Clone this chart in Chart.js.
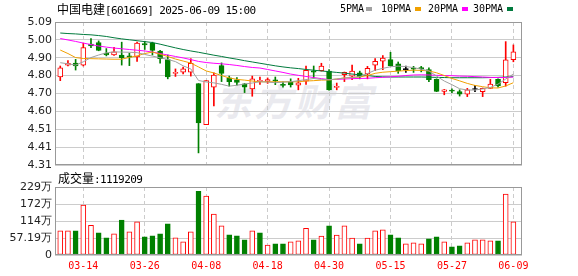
<!DOCTYPE html>
<html><head><meta charset="utf-8">
<script src="https://cdn.jsdelivr.net/npm/chart.js@4/dist/chart.umd.min.js"></script>
<style>
html,body{margin:0;padding:0;background:#fff;}
#wrap{position:relative;width:578px;height:276px;overflow:hidden;background:#fff;}
canvas{position:absolute;left:0;top:0;}
.t{position:absolute;white-space:nowrap;font-family:"DejaVu Sans Mono",monospace;font-size:11px;letter-spacing:-0.6px;color:#000;line-height:12px;}
.cjk{font-family:"Noto Sans CJK SC";font-size:12px;letter-spacing:0;}
.lg{position:absolute;white-space:nowrap;font-family:"DejaVu Sans Mono",monospace;font-size:10px;color:#000;line-height:12px;top:3px;}
.sq{position:absolute;width:6px;height:4px;top:7px;}
#wm{position:absolute;left:214px;top:72px;font:italic bold 38px "Noto Sans CJK SC";color:rgba(195,195,210,0.35);letter-spacing:2px;}
</style></head>
<body>
<div id="wrap">
  <div id="wm">东方财富</div>
  <canvas id="c1" width="578" height="276"></canvas>
  <canvas id="c2" width="578" height="276"></canvas>
  <div class="t" style="left:57px;top:3px"><span class="cjk">中国电建</span>[601669] 2025-06-09 15:00</div>
  <div class="lg" style="left:340px">5PMA</div><div class="sq" style="left:366px;background:#a0a0a0"></div>
  <div class="lg" style="left:381px">10PMA</div><div class="sq" style="left:415px;background:#f0a000"></div>
  <div class="lg" style="left:428px">20PMA</div><div class="sq" style="left:462px;background:#ff00ff"></div>
  <div class="lg" style="left:473px">30PMA</div><div class="sq" style="left:507px;background:#007a3d"></div>
  <div class="t" style="left:58px;top:172px"><span class="cjk">成交量</span>:1119209</div>
</div>
<script>
const dates = ['03-11','03-12','03-13','03-14','03-17','03-18','03-19','03-20','03-21','03-24',
 '03-25','03-26','03-27','03-28','03-31','04-01','04-02','04-03','04-07','04-08',
 '04-09','04-10','04-11','04-14','04-15','04-16','04-17','04-18','04-21','04-22',
 '04-23','04-24','04-25','04-28','04-29','04-30','05-06','05-07','05-08','05-09',
 '05-12','05-13','05-14','05-15','05-16','05-19','05-20','05-21','05-22','05-23',
 '05-26','05-27','05-28','05-29','05-30','06-03','06-04','06-05','06-06','06-09'];
const tickDates = ['03-14','03-26','04-08','04-18','04-30','05-15','05-27','06-09'];

const open = [4.79,4.855,4.866,4.855,4.97,4.978,4.92,4.911,4.91,4.905,
 4.90,4.972,4.975,4.932,4.885,4.81,4.817,4.817,4.754,4.53,
 4.734,4.852,4.786,4.775,4.753,4.725,4.765,4.766,4.775,4.747,
 4.764,4.745,4.767,4.823,4.825,4.822,4.733,4.803,4.795,4.813,
 4.807,4.855,4.877,4.885,4.862,4.83,4.838,4.84,4.83,4.777,
 4.712,4.716,4.71,4.697,4.722,4.71,4.728,4.777,4.759,4.885];
const high = [4.85,4.88,4.886,4.975,5.00,4.987,4.945,4.952,4.98,4.92,
 4.98,4.985,4.98,4.935,4.91,4.834,4.844,4.89,4.754,4.77,
 4.813,4.867,4.795,4.787,4.755,4.795,4.79,4.785,4.79,4.764,
 4.78,4.783,4.85,4.85,4.865,4.83,4.757,4.817,4.855,4.822,
 4.848,4.89,4.907,4.925,4.872,4.85,4.848,4.848,4.84,4.78,
 4.722,4.725,4.72,4.728,4.745,4.73,4.777,4.78,4.983,4.965];
const low = [4.77,4.85,4.828,4.85,4.95,4.933,4.905,4.908,4.855,4.852,
 4.875,4.94,4.91,4.865,4.78,4.793,4.807,4.795,4.376,4.53,
 4.632,4.765,4.74,4.745,4.705,4.685,4.75,4.755,4.748,4.735,
 4.735,4.72,4.75,4.783,4.822,4.718,4.72,4.765,4.775,4.78,
 4.78,4.825,4.83,4.85,4.81,4.815,4.815,4.818,4.765,4.71,
 4.693,4.705,4.686,4.683,4.71,4.683,4.728,4.735,4.74,4.873];
const close = [4.84,4.865,4.85,4.95,4.96,4.935,4.91,4.927,4.895,4.898,
 4.975,4.965,4.935,4.89,4.79,4.815,4.835,4.864,4.54,4.77,
 4.80,4.81,4.765,4.76,4.735,4.78,4.772,4.776,4.768,4.744,
 4.747,4.758,4.827,4.817,4.85,4.72,4.738,4.815,4.822,4.792,
 4.837,4.875,4.893,4.852,4.825,4.83,4.833,4.836,4.775,4.712,
 4.72,4.713,4.697,4.72,4.722,4.728,4.752,4.742,4.883,4.927];
const volume = [812000,812000,812000,1679000,1000000,745000,578000,711000,1178000,778000,
 1112000,611000,645000,711000,1045000,578000,445000,778000,2146000,1979000,
 1379000,978000,678000,645000,511000,812000,745000,333000,378000,378000,
 445000,478000,900000,511000,634000,978000,667000,978000,567000,378000,
 567000,812000,845000,678000,578000,378000,411000,378000,545000,611000,
 445000,278000,311000,411000,511000,511000,478000,478000,2046000,1119209];
const ma5 = [4.868,4.862,4.855,4.873,4.896,4.910,4.922,4.927,4.926,4.925,
 4.923,4.913,4.904,4.895,4.886,4.874,4.851,4.834,4.771,4.763,
 4.758,4.750,4.740,4.745,4.752,4.757,4.764,4.762,4.759,4.762,
 4.764,4.770,4.776,4.782,4.777,4.775,4.779,4.785,4.788,4.792,
 4.809,4.827,4.837,4.846,4.849,4.847,4.841,4.833,4.823,4.795,
 4.768,4.748,4.726,4.719,4.719,4.725,4.733,4.751,4.779,4.806];
const ma10 = [4.937,4.918,4.896,4.891,4.890,4.889,4.888,4.887,4.887,4.897,
 4.905,4.918,4.926,4.914,4.902,4.888,4.877,4.866,4.845,4.823,
 4.812,4.798,4.785,4.777,4.773,4.768,4.764,4.764,4.764,4.764,
 4.764,4.764,4.768,4.770,4.773,4.774,4.779,4.785,4.787,4.790,
 4.798,4.810,4.816,4.819,4.822,4.825,4.827,4.826,4.823,4.813,
 4.798,4.782,4.769,4.755,4.744,4.737,4.731,4.730,4.741,4.759];
const ma20 = [5.000,4.992,4.984,4.975,4.967,4.959,4.953,4.948,4.944,4.940,
 4.936,4.932,4.926,4.918,4.910,4.902,4.894,4.885,4.875,4.869,
 4.865,4.862,4.858,4.853,4.847,4.842,4.839,4.831,4.823,4.815,
 4.806,4.799,4.793,4.787,4.781,4.776,4.777,4.779,4.781,4.782,
 4.783,4.786,4.788,4.791,4.794,4.798,4.801,4.802,4.801,4.799,
 4.798,4.797,4.795,4.794,4.792,4.790,4.788,4.787,4.787,4.790];
const ma30 = [5.030,5.027,5.025,5.022,5.020,5.016,5.011,5.004,4.998,4.993,
 4.988,4.983,4.978,4.969,4.959,4.949,4.940,4.932,4.925,4.917,
 4.909,4.902,4.894,4.887,4.879,4.872,4.865,4.858,4.851,4.845,
 4.840,4.836,4.831,4.827,4.823,4.819,4.815,4.811,4.806,4.802,
 4.798,4.793,4.791,4.790,4.790,4.790,4.790,4.790,4.789,4.788,
 4.787,4.786,4.786,4.786,4.786,4.786,4.787,4.788,4.790,4.792];

const priceTickValues = [4.31,4.4075,4.505,4.6025,4.70,4.7975,4.895,4.9925,5.09];
const priceTickLabels = ['4.31','4.41','4.51','4.60','4.70','4.80','4.90','5.00','5.09'];
const volTickValues = [0,571900,1143800,1715700,2287600];
const volTickLabels = ['0','57.19万','114万','172万','229万'];

const RED='#ff0000', GREEN='#008000', BLACK='#000000';
const idx = dates.map((d,i)=>i);
const tickIdx = tickDates.map(d=>dates.indexOf(d));
const X_MIN = -0.685, X_MAX = 60.122;
const candleCol = idx.map(i => close[i]>open[i]?RED:(close[i]<open[i]?GREEN:BLACK));
const bodyFill = idx.map(i => close[i]>open[i]?'#ffffff':candleCol[i]);
const volUp = idx.map(i => i===0 ? close[i]>=open[i] : close[i]>=close[i-1]);
const volCol = volUp.map(u=>u?RED:GREEN);
const volFill = volUp.map(u=>u?'#ffffff':GREEN);

const boxPlugin = {id:'box', afterDraw(chart){
  const a=chart.chartArea, c=chart.ctx;
  c.save(); c.strokeStyle='#999'; c.lineWidth=1;
  c.strokeRect(a.left+0.5,a.top+0.5,a.right-a.left-1,a.bottom-a.top-1);
  c.restore();
}};

function xScale(showTicks, h){
  return {type:'linear', min:X_MIN, max:X_MAX, offset:false,
    afterBuildTicks:s=>{s.ticks=tickIdx.map(v=>({value:v}));},
    afterFit:s=>{s.height=h;},
    ticks:{display:showTicks, autoSkip:false, maxRotation:0, padding:5,
      callback:v=>dates[v], color:RED, font:{family:'DejaVu Sans Mono', size:10}},
    grid:{color:'#cccccc', drawTicks:false, lineWidth:1, offset:false},
    border:{display:false, dash:[4,3]}};
}
function line(lbl, arr, col){
  return {type:'line', label:lbl, data:idx.map(i=>({x:i,y:arr[i]})), borderColor:col,
    borderWidth:1, pointRadius:0, tension:0, order:0};
}

new Chart(document.getElementById('c1'), {
  type:'bar',
  data:{datasets:[
    line('5PMA', ma5, '#a0a0a0'),
    line('10PMA', ma10, '#f0a000'),
    line('20PMA', ma20, '#ff00ff'),
    line('30PMA', ma30, '#007a3d'),
    {label:'body', data:idx.map(i=>({x:i,y:[open[i],close[i]]})), backgroundColor:bodyFill,
      borderColor:candleCol, borderWidth:1, borderSkipped:false, barThickness:5, minBarLength:1,
      grouped:false, order:1},
    {label:'wick', data:idx.map(i=>({x:i,y:[low[i],high[i]]})), backgroundColor:candleCol,
      borderWidth:0, barThickness:1, grouped:false, order:2}
  ]},
  options:{responsive:false, animation:false, events:[],
    layout:{padding:{left:0,top:22,right:56,bottom:111}},
    plugins:{legend:{display:false}, tooltip:{enabled:false}},
    scales:{
      x:xScale(false,0),
      y:{min:4.31, max:5.09,
        afterBuildTicks:s=>{s.ticks=priceTickValues.map(v=>({value:v}));},
        afterFit:s=>{s.width=55;},
        ticks:{callback:(v,i)=>priceTickLabels[i], color:'#222', padding:3,
          font:{family:'DejaVu Sans', size:11}},
        grid:{color:'#cccccc', drawTicks:false}, border:{display:false}}
    }},
  plugins:[boxPlugin]
});

new Chart(document.getElementById('c2'), {
  type:'bar',
  data:{datasets:[
    {label:'volume', data:idx.map(i=>({x:i,y:volume[i]})), backgroundColor:volFill,
      borderColor:volCol, borderWidth:1, borderSkipped:false, barThickness:5, grouped:false}
  ]},
  options:{responsive:false, animation:false, events:[],
    layout:{padding:{left:0,top:187,right:56,bottom:0}},
    plugins:{legend:{display:false}, tooltip:{enabled:false}},
    scales:{
      x:xScale(true,21),
      y:{min:0, max:2287600,
        afterBuildTicks:s=>{s.ticks=volTickValues.map(v=>({value:v}));},
        afterFit:s=>{s.width=55;},
        ticks:{callback:(v,i)=>volTickLabels[i], color:'#222', padding:3,
          font:{family:'DejaVu Sans', size:11}},
        grid:{color:'#cccccc', drawTicks:false}, border:{display:false}}
    }},
  plugins:[boxPlugin]
});
</script>
</body></html>
